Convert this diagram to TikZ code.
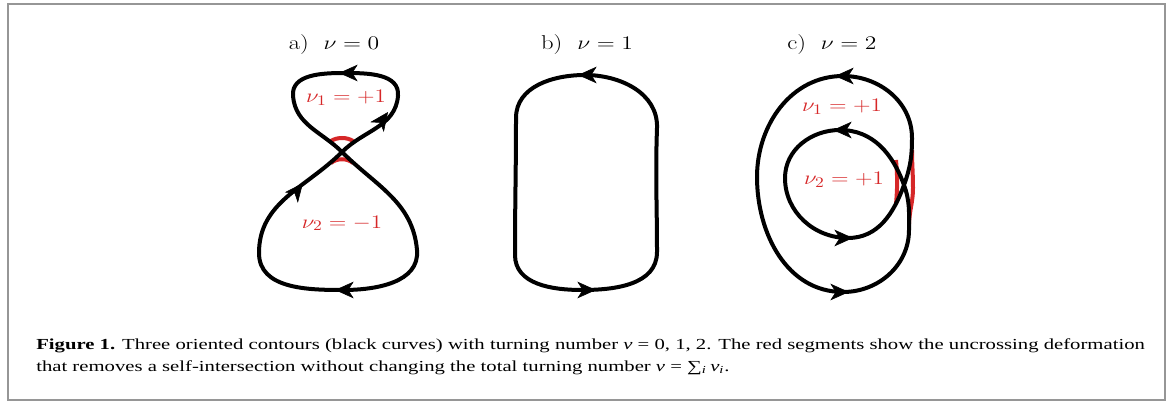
\documentclass[tikz,border=0pt]{standalone}
\usepackage{fontspec}
\newfontfamily\capfont{Liberation Serif}
\usetikzlibrary{arrows.meta,decorations.markings}
\definecolor{myred}{RGB}{214,39,40}
\definecolor{framegray}{RGB}{150,150,150}
\tikzset{
  curve/.style={line width=3pt, line cap=round, line join=round},
  redarc/.style={draw=myred, line width=3pt},
  tipat/.style={decoration={markings, mark=at position 1 with {\arrow{Stealth[length=14pt,width=12.5pt,inset=4pt]}}}, postaction={decorate}},
  title/.style={anchor=base, font=\fontsize{15}{18}\selectfont},
  lab/.style={anchor=base, text=myred, font=\fontsize{15}{18}\selectfont},
  captext/.style={anchor=base west, font=\capfont\fontsize{11.5}{13}\selectfont, inner sep=0pt},
}
\newcommand\wideT[1]{\scalebox{1.23}[1]{#1}}
\newcommand\wideL[1]{\scalebox{1.2}[1]{#1}}
\newcommand\wideC[1]{\scalebox{1.35}[1]{#1}}
\begin{document}
\begin{tikzpicture}[x=0.75pt,y=0.75pt]
\useasboundingbox (0,0) rectangle (1168,-403);
\draw[framegray, line width=1.5pt] (8,-4) rectangle (1165,-400);

% ---------- a) ----------
\node[title] (ta) at (334,-50) {\wideT{a)~~$\nu=0$}};
\coordinate (aC) at (342,-152);
\coordinate (aR) at (398,-96);
\coordinate (aT) at (345,-73);
\coordinate (aL) at (293,-96);
\coordinate (aBR) at (417,-250);
\coordinate (aB) at (343,-290);
\coordinate (aBL) at (259,-253);
\draw[redarc] (331,-141) .. controls (337,-137) and (347,-137) .. (353,-141);
\draw[redarc] (331,-163) .. controls (337,-158) and (347,-158) .. (353,-163);
\draw[curve] (aC) to[out=45,in=-95] (aR) to[out=85,in=0] (aT) to[out=180,in=95] (aL)
  to[out=-85,in=135] (aC) to[out=-45,in=95] (aBR) to[out=-85,in=0] (aB)
  to[out=180,in=-90] (aBL) to[out=90,in=-135] (aC);
\path[tipat] (350,-73) -- (339,-73);
\path[tipat] (380,-123) -- (388,-112);
\path[tipat] (295,-193) -- (303,-183);
\path[tipat] (348,-290) -- (335,-290);
\node[lab] (a1) at (346,-103) {\wideL{$\nu_1=+1$}};
\node[lab] (a2) at (342,-228) {\wideL{$\nu_2=-1$}};

% ---------- b) ----------
\node[title] (tb) at (587,-50) {\wideT{b)~~$\nu=1$}};
\coordinate (bT) at (585,-75);
\coordinate (bLT) at (516,-118);
\coordinate (bLB) at (515,-255);
\coordinate (bB) at (582,-290);
\coordinate (bRB) at (657,-252);
\coordinate (bRT) at (657,-128);
\draw[curve] (bT) to[out=180,in=90] (bLT) to[out=-90,in=90] (bLB) to[out=-90,in=180] (bB)
  to[out=0,in=-90] (bRB) to[out=90,in=-92] (bRT) to[out=88,in=0] (bT);
\path[tipat] (590,-75) -- (578,-75);
\path[tipat] (585,-290) -- (596,-290);

% ---------- c) ----------
\node[title] (tc) at (832,-50) {\wideT{c)~~$\nu=2$}};
\coordinate (cOT) at (843,-76);
\coordinate (cOL) at (757,-177);
\coordinate (cOB) at (843,-292);
\coordinate (cOR) at (912,-138);
\coordinate (cX) at (904,-185);
\coordinate (cORB) at (909,-230);
\coordinate (cIT) at (840,-130);
\coordinate (cIL) at (785,-178);
\coordinate (cIB) at (848,-238);
\draw[redarc] (896,-160) to[out=-85,in=85] (896,-204);
\draw[redarc] (912,-150) to[out=-90,in=90] (913,-188) to[out=-90,in=88] (909,-224);
\draw[curve] (cOB) to[out=0,in=-90] (cORB) to[out=90,in=-70] (cX) to[out=110,in=0] (cIT)
  to[out=180,in=90] (cIL) to[out=-90,in=180] (cIB) to[out=0,in=-110] (cX)
  to[out=70,in=-90] (cOR) to[out=90,in=0] (cOT) to[out=180,in=90] (cOL)
  to[out=-90,in=180] (cOB);
\path[tipat] (845,-76) -- (835,-76);
\path[tipat] (843,-130) -- (833,-130);
\path[tipat] (845,-238) -- (853,-238);
\path[tipat] (840,-292) -- (849,-292);
\node[lab] (c1) at (842,-112) {\wideL{$\nu_1=+1$}};
\node[lab] (c2) at (844,-185) {\wideL{$\nu_2=+1$}};

% ---------- caption ----------
\node[captext] (cap1) at (36,-349) {\wideC{\textbf{Figure 1.} Three oriented contours (black curves) with turning number \textit{ν} = 0, 1, 2. The red segments show the uncrossing deformation}};
\node[captext] (cap2) at (36,-371) {\wideC{that removes a self-intersection without changing the total turning number \textit{ν} = ∑\textsubscript{\textit{i}}\,\textit{ν}\textsubscript{\textit{i}}.}};
\end{tikzpicture}
\end{document}
